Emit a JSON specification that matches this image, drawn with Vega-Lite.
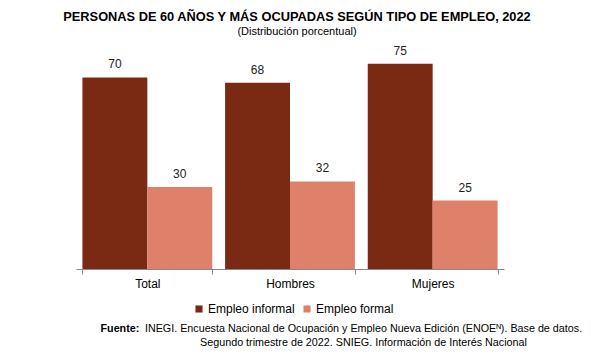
{
  "$schema": "https://vega.github.io/schema/vega-lite/v6.json",
  "autosize": "none",
  "width": 428,
  "height": 219,
  "padding": {"left": 76, "top": 50, "right": 87, "bottom": 89},
  "background": "white",
  "config": {"font": "Liberation Sans", "view": {"stroke": null}},
  "title": {
    "text": "PERSONAS DE 60 AÑOS Y MÁS OCUPADAS SEGÚN TIPO DE EMPLEO, 2022",
    "subtitle": "(Distribución porcentual)",
    "anchor": "middle",
    "dx": 7,
    "fontSize": 12.8,
    "fontWeight": "bold",
    "color": "#000",
    "subtitleFontSize": 11,
    "subtitleColor": "#000",
    "subtitlePadding": 2,
    "offset": 8
  },
  "data": {
    "values": [
      {"grupo": "Total", "tipo": "Empleo informal", "valor": 70},
      {"grupo": "Total", "tipo": "Empleo formal", "valor": 30},
      {"grupo": "Hombres", "tipo": "Empleo informal", "valor": 68},
      {"grupo": "Hombres", "tipo": "Empleo formal", "valor": 32},
      {"grupo": "Mujeres", "tipo": "Empleo informal", "valor": 75},
      {"grupo": "Mujeres", "tipo": "Empleo formal", "valor": 25}
    ]
  },
  "encoding": {
    "x": {
      "field": "grupo",
      "type": "nominal",
      "sort": ["Total", "Hombres", "Mujeres"],
      "scale": {"paddingInner": 0.09, "paddingOuter": 0.045},
      "axis": {
        "tickBand": "extent",
        "labelAngle": 0,
        "labelFontSize": 12,
        "labelColor": "#000",
        "labelPadding": 4,
        "domainColor": "#888",
        "tickColor": "#888",
        "tickSize": 5,
        "title": ["INEGI. Encuesta Nacional de Ocupación y Empleo Nueva Edición (ENOEᴺ). Base de datos.", "Segundo trimestre de 2022. SNIEG. Información de Interés Nacional"],
        "titleFontSize": 10.75,
        "titleFontWeight": "normal",
        "titleColor": "#000",
        "titleLineHeight": 14,
        "titleAlign": "center",
        "titleX": 287,
        "titleY": 54
      }
    },
    "xOffset": {"field": "tipo", "type": "nominal", "sort": ["Empleo informal", "Empleo formal"]},
    "y": {
      "field": "valor",
      "type": "quantitative",
      "scale": {"domain": [0, 80]},
      "axis": {
        "domain": false,
        "labels": false,
        "ticks": false,
        "grid": false,
        "title": "Fuente:",
        "titleAngle": 0,
        "titleFontSize": 10.75,
        "titleFontWeight": "bold",
        "titleColor": "#000",
        "titleAlign": "left",
        "titleBaseline": "alphabetic",
        "titleX": 24,
        "titleY": 281
      }
    }
  },
  "layer": [
    {
      "mark": {"type": "bar"},
      "encoding": {
        "color": {
          "field": "tipo",
          "type": "nominal",
          "sort": ["Empleo informal", "Empleo formal"],
          "scale": {"domain": ["Empleo informal", "Empleo formal"], "range": ["#7a2a13", "#df816a"]},
          "legend": {
            "title": null,
            "orient": "none",
            "direction": "horizontal",
            "legendX": 117,
            "legendY": 253,
            "symbolType": "square",
            "symbolSize": 50,
            "symbolStrokeWidth": 0,
            "labelFontSize": 12,
            "labelColor": "#000",
            "columnPadding": 6,
            "labelOffset": 3
          }
        }
      }
    },
    {
      "mark": {"type": "text", "dy": -6, "fontSize": 12, "color": "#222", "baseline": "bottom"},
      "encoding": {"text": {"field": "valor", "type": "quantitative"}}
    }
  ]
}
